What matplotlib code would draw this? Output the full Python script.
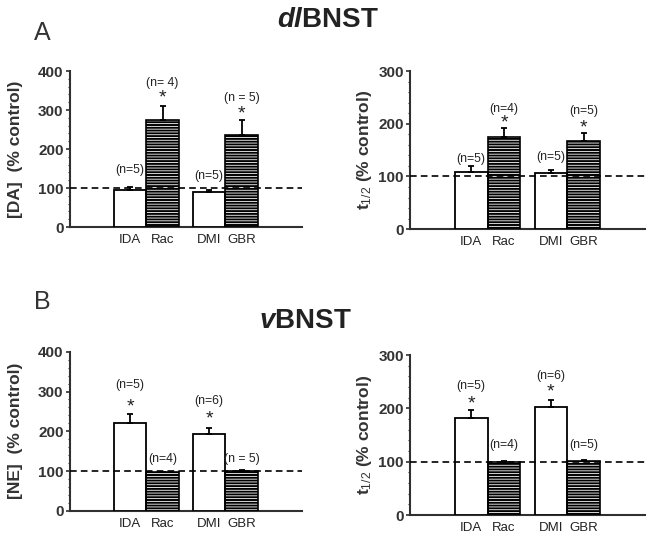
import matplotlib
matplotlib.use("Agg")
import matplotlib.pyplot as plt
import numpy as np

plt.rcParams['font.family'] = ['Liberation Sans', 'DejaVu Sans']
plt.rcParams['hatch.linewidth'] = 0.6
plt.rcParams['mathtext.fontset'] = 'custom'
plt.rcParams['mathtext.rm'] = 'Liberation Sans'
plt.rcParams['mathtext.it'] = 'Liberation Sans:italic'
plt.rcParams['mathtext.bf'] = 'Liberation Sans:bold'
plt.rcParams['mathtext.bfit'] = 'Liberation Sans:bold:italic'

groups = ["IDA", "Rac", "DMI", "GBR"]
positions = [2.6, 4.0, 6.0, 7.4]
dark = [False, True, False, True]

# Panel A (dlBNST)
da_vals = [96, 275, 90, 237]
da_errs = [6, 36, 5, 37]
da_n = ["(n=5)", "(n= 4)", "(n=5)", "(n = 5)"]
da_n_y = [145, 370, 132, 332]
da_star = [False, True, False, True]
da_star_y = [None, 330, None, 291]

t12a_vals = [108, 175, 106, 168]
t12a_errs = [12, 17, 6, 15]
t12a_n = ["(n=5)", "(n=4)", "(n=5)", "(n=5)"]
t12a_n_y = [133, 229, 137, 224]
t12a_star = [False, True, False, True]
t12a_star_y = [None, 202, None, 193]

# Panel B (vBNST)
ne_vals = [221, 97, 193, 100]
ne_errs = [22, 2, 15, 3]
ne_n = ["(n=5)", "(n=4)", "(n=6)", "(n = 5)"]
ne_n_y = [317, 130, 275, 130]
ne_star = [True, False, True, False]
ne_star_y = [260, None, 231, None]

t12b_vals = [182, 100, 203, 101]
t12b_errs = [14, 1, 13, 3]
t12b_n = ["(n=5)", "(n=4)", "(n=6)", "(n=5)"]
t12b_n_y = [241, 131, 260, 131]
t12b_star = [True, False, True, False]
t12b_star_y = [208, None, 231, None]

fig = plt.figure(figsize=(6.52, 5.47), dpi=100)

axes_specs = [
    ([0.107, 0.585, 0.356, 0.285], 400, [0, 100, 200, 300, 400], "[DA]  (% control)",
     da_vals, da_errs, da_n, da_n_y, da_star, da_star_y),
    ([0.629, 0.581, 0.360, 0.289], 300, [0, 100, 200, 300], r"t$_{1/2}$ (% control)",
     t12a_vals, t12a_errs, t12a_n, t12a_n_y, t12a_star, t12a_star_y),
    ([0.107, 0.066, 0.356, 0.291], 400, [0, 100, 200, 300, 400], "[NE]  (% control)",
     ne_vals, ne_errs, ne_n, ne_n_y, ne_star, ne_star_y),
    ([0.629, 0.0585, 0.360, 0.2925], 300, [0, 100, 200, 300], r"t$_{1/2}$ (% control)",
     t12b_vals, t12b_errs, t12b_n, t12b_n_y, t12b_star, t12b_star_y),
]

spine_col = "#303030"
for idx, (rect, ymax, yticks, ylabel, vals, errs, ns, ny, stars, stary) in enumerate(axes_specs):
    ax = fig.add_axes(rect)
    ax.set_xlim(0, 10)
    ax.set_ylim(0, ymax)
    for i in range(4):
        x = positions[i]
        if dark[i]:
            ax.bar(x, vals[i], width=1.4, color="black", edgecolor="white",
                   hatch="------", linewidth=0, zorder=2)
            ax.bar(x, vals[i], width=1.4, fill=False, edgecolor="black",
                   linewidth=1.2, zorder=3)
        else:
            ax.bar(x, vals[i], width=1.4, color="white", edgecolor="black",
                   linewidth=1.3, zorder=3)
        ax.errorbar(x, vals[i], yerr=[[0], [errs[i]]], fmt="none", ecolor="black",
                    elinewidth=1.3, capsize=2, capthick=1.3, zorder=4)
        ax.text(x, ny[i], ns[i], ha="center", va="center", fontsize=8.8,
                color="#222222", zorder=5)
        if stars[i]:
            ax.text(x, stary[i], "*", ha="center", va="center", fontsize=14,
                    color="#222222", zorder=5)
    ax.axhline(100, color="black", linestyle=(0, (4, 2.5)), linewidth=1.2, zorder=4)
    for s in ["top", "right"]:
        ax.spines[s].set_visible(False)
    for s in ["left", "bottom"]:
        ax.spines[s].set_color(spine_col)
        ax.spines[s].set_linewidth(1.5)
    ax.set_yticks(yticks)
    ax.set_yticklabels([str(t) for t in yticks], fontsize=11, fontweight="bold",
                       color="#333333")
    ax.set_yticks(np.arange(0, ymax + 1, 20), minor=True)
    ax.tick_params(axis="y", which="major", direction="out", length=3, width=1.2,
                   color=spine_col, pad=1.5)
    ax.tick_params(axis="y", which="minor", direction="out", length=1.5, width=0.8,
                   color=spine_col)
    ax.set_xticks(positions)
    ax.set_xticklabels(groups, fontsize=9.5, color="#222222")
    ax.tick_params(axis="x", length=0, pad=5)
    ax.set_ylabel(ylabel, fontsize=12.5, fontweight="bold", color="#333333",
                  labelpad=11 if idx % 2 == 0 else 3)

fig.text(0.065, 0.940, "A", fontsize=18, ha="center", va="center", color="#333333")
fig.text(0.065, 0.447, "B", fontsize=18, ha="center", va="center", color="#333333")
fig.text(0.503, 0.964, r"$\mathbfit{dl}\mathbf{BNST}$", fontsize=20,
         ha="center", va="center", color="#222222")
fig.text(0.469, 0.414, r"$\mathbfit{v}\mathbf{BNST}$", fontsize=20,
         ha="center", va="center", color="#222222")

fig.savefig("out.png", dpi=100)
